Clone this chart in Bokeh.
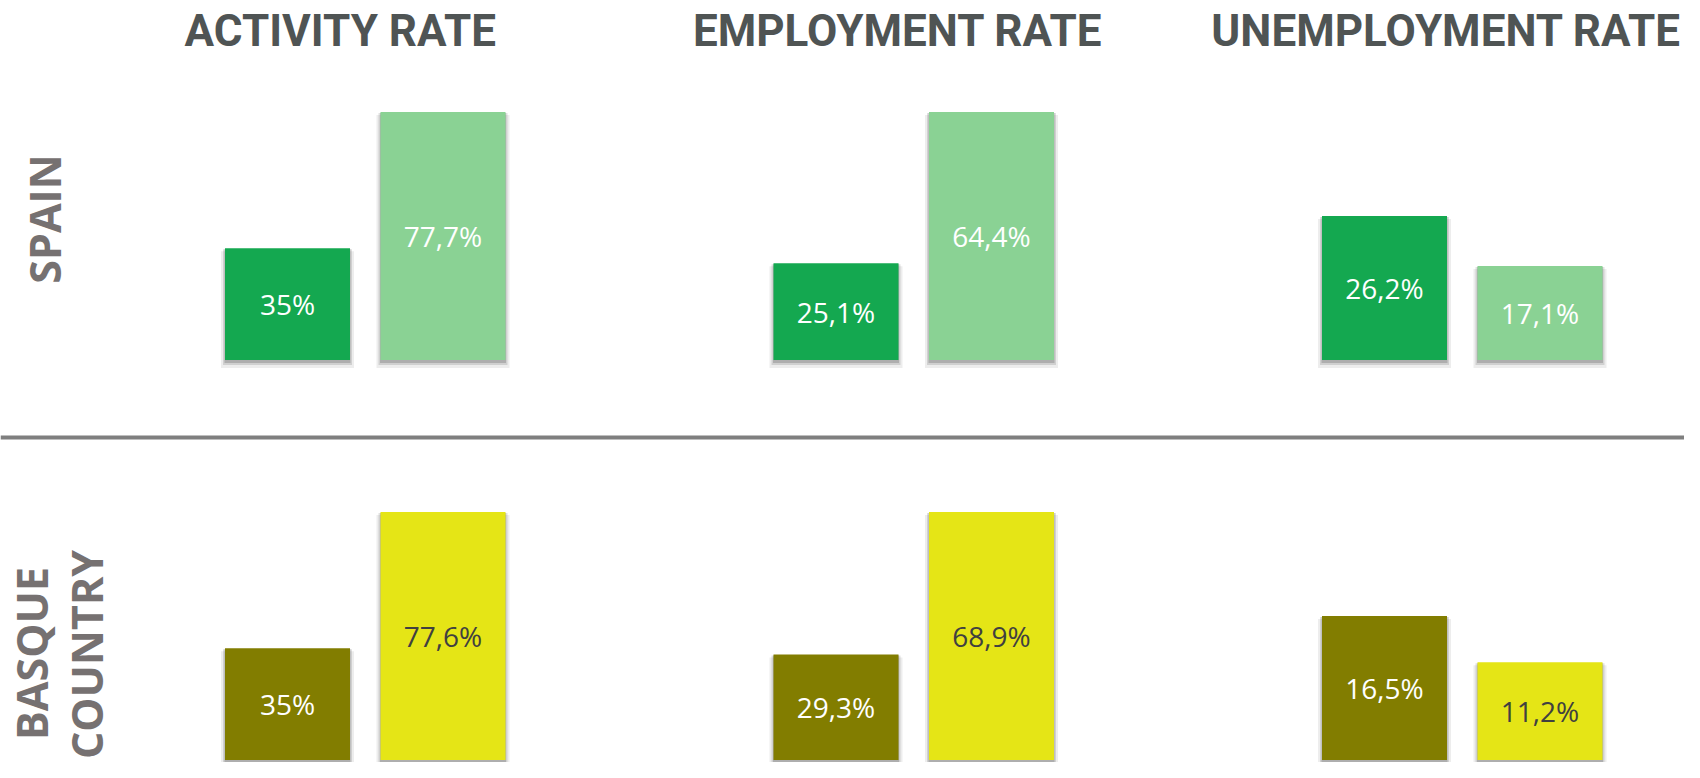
import math
from bokeh.plotting import figure
from bokeh.models import ColumnDataSource, Range1d, Span
from bokeh.transform import dodge
from bokeh.core.properties import value
from bokeh.embed import file_html
from bokeh.resources import INLINE

# ---------------- data ----------------
indicators = ["ACTIVITY RATE", "EMPLOYMENT RATE", "UNEMPLOYMENT RATE"]
regions = ["SPAIN", "BASQUE COUNTRY"]
groups = ["Group A", "Group B"]          # dark bar, light bar

spain_group_a = [35.0, 25.1, 26.2]
spain_group_b = [77.7, 64.4, 17.1]
basque_group_a = [35.0, 29.3, 16.5]
basque_group_b = [77.6, 68.9, 11.2]

values = {
    ("SPAIN", "Group A"): spain_group_a,
    ("SPAIN", "Group B"): spain_group_b,
    ("BASQUE COUNTRY", "Group A"): basque_group_a,
    ("BASQUE COUNTRY", "Group B"): basque_group_b,
}

# ---------------- styles / layout ----------------
W, H = 1684, 762
COL_PX = 548.5                 # pixels per column index
FIRST_CENTER_PX = 364.75       # centre of first pair of bars
BASELINE_PX = {"SPAIN": 402.5, "BASQUE COUNTRY": 2.5}   # from the bottom
MAX_BAR_PX = [248, 248, 144]   # height of tallest bar in each indicator panel
DODGE = 77.75 / COL_PX
BAR_W = 125 / COL_PX
TITLE_SHIFT = [-25, -16, -16]  # title offset from the bar pair centre (px)

bar_colors = {
    ("SPAIN", "Group A"): "#14A850",
    ("SPAIN", "Group B"): "#8AD294",
    ("BASQUE COUNTRY", "Group A"): "#827D00",
    ("BASQUE COUNTRY", "Group B"): "#E5E516",
}
text_colors = {
    ("SPAIN", "Group A"): "white",
    ("SPAIN", "Group B"): "white",
    ("BASQUE COUNTRY", "Group A"): "white",
    ("BASQUE COUNTRY", "Group B"): "#404040",
}

x_start = -FIRST_CENTER_PX / COL_PX
p = figure(width=W, height=H, output_backend="svg", toolbar_location=None,
           x_range=Range1d(x_start, x_start + W / COL_PX), y_range=Range1d(0, H),
           x_axis_location=None, y_axis_location=None, min_border=0,
           outline_line_color=None, background_fill_color="white",
           border_fill_color="white")
p.grid.visible = False
p.extra_x_ranges["px"] = Range1d(0, W)


def fmt(v):
    return f"{v:g}".replace(".", ",") + "%"


for region in regions:
    base = BASELINE_PX[region]
    for c, ind in enumerate(indicators):
        vals = [values[(region, g)][c] for g in groups]
        ppu = MAX_BAR_PX[c] / max(vals)
        name = f"{region}-{c}"
        p.extra_y_ranges[name] = Range1d(-base / ppu, (H - base) / ppu)
        for gi, g in enumerate(groups):
            v = values[(region, g)][c]
            src = ColumnDataSource(dict(col=[c], val=[v], half=[v / 2],
                                        lbl=[fmt(v)],
                                        sh1=[v - 3 / ppu], sh2=[v - 1 / ppu]))
            xs = dodge("col", (-1 if gi == 0 else 1) * DODGE, range=p.x_range)
            # soft drop shadow
            p.vbar(x=xs, top="sh1", bottom=-8 / ppu, width=BAR_W + 8 / COL_PX,
                   source=src, y_range_name=name, fill_color="#000000",
                   fill_alpha=0.07, line_color=None)
            p.vbar(x=xs, top="sh2", bottom=-5 / ppu, width=BAR_W + 4 / COL_PX,
                   source=src, y_range_name=name, fill_color="#000000",
                   fill_alpha=0.12, line_color=None)
            p.vbar(x=xs, top="sh2", bottom=-3 / ppu, width=BAR_W + 1 / COL_PX,
                   source=src, y_range_name=name, fill_color="#000000",
                   fill_alpha=0.16, line_color=None)
            p.vbar(x=xs, top="val", bottom=0, width=BAR_W, source=src,
                   y_range_name=name, fill_color=bar_colors[(region, g)],
                   line_color=None)
            p.text(x=xs, y="half", text="lbl", source=src, y_range_name=name,
                   text_align="center", text_baseline="middle",
                   text_font=value("Open Sans"), text_font_size="28px",
                   text_color=text_colors[(region, g)])

# indicator titles
title_src = ColumnDataSource(dict(x=list(range(len(indicators))),
                                  y=[731.5] * len(indicators),
                                  t=indicators, dx=TITLE_SHIFT))
p.text(x="x", y="y", text="t", x_offset="dx", source=title_src,
       text_align="center", text_baseline="middle",
       text_font=value("Roboto"), text_font_style="bold",
       text_font_size="44px", text_color="#4F5454")

# row labels (rotated)
label_kw = dict(angle=math.pi / 2, text_align="center", text_baseline="middle",
                text_font=value("Open Sans"), text_font_style="bold",
                text_font_size="43px", text_color="#767171", x_range_name="px")
p.text(x=[44], y=[543.5], text=["SPAIN"], **label_kw)
p.text(x=[31, 86], y=[109, 108], text=["BASQUE", "COUNTRY"], **label_kw)

# separator between the two regions
p.add_layout(Span(location=325, dimension="width", line_color="#7F7F7F",
                  line_width=4))

open("out.html", "w").write(file_html(p, INLINE))
